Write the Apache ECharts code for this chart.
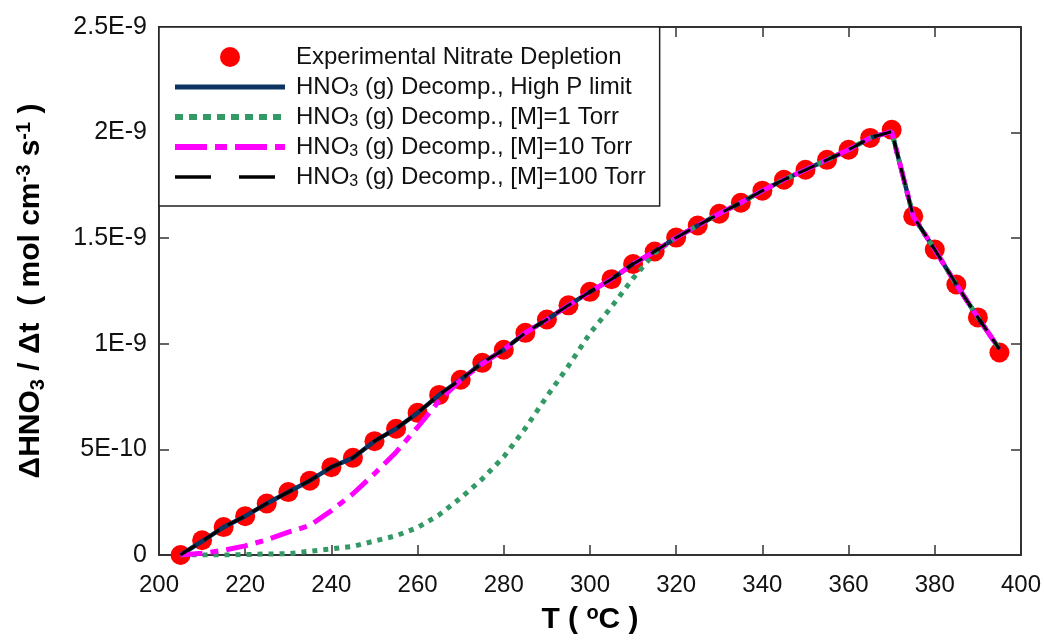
<!DOCTYPE html>
<html>
<head>
<meta charset="utf-8">
<script src="https://cdn.jsdelivr.net/npm/echarts@6/dist/echarts.min.js"></script>
<style>
html,body{margin:0;padding:0;background:#fff;}
#chart{width:1044px;height:640px;}
</style>
</head>
<body>
<div id="chart"></div>
<script>
// Temperature (°C)
var temps = [205,210,215,220,225,230,235,240,245,250,255,260,265,270,275,280,285,290,295,300,305,310,315,320,325,330,335,340,345,350,355,360,365,370,375,380,385,390,395];
// Values in units of 1E-9 mol cm^-3 s^-1
var experimental = [0,0.07,0.132,0.184,0.244,0.298,0.352,0.416,0.46,0.539,0.598,0.673,0.758,0.83,0.91,0.972,1.052,1.115,1.182,1.246,1.306,1.378,1.437,1.503,1.56,1.616,1.668,1.725,1.777,1.824,1.871,1.919,1.975,2.013,1.604,1.446,1.281,1.125,0.959];
var highP = [0,0.065,0.132,0.184,0.244,0.298,0.352,0.416,0.46,0.539,0.598,0.673,0.758,0.83,0.91,0.972,1.052,1.115,1.182,1.246,1.306,1.378,1.437,1.503,1.56,1.616,1.668,1.725,1.777,1.824,1.871,1.919,1.975,2.005,1.604,1.446,1.281,1.125,0.975];
var oneTorr = [0,0,0,0.002,0.005,0.006,0.018,0.029,0.041,0.066,0.091,0.13,0.19,0.27,0.36,0.465,0.6,0.751,0.895,1.05,1.175,1.31,1.43,1.503,1.56,1.616,1.668,1.725,1.777,1.824,1.871,1.919,1.975,2.005,1.604,1.446,1.281,1.125,0.975];
var tenTorr = [0,0.008,0.022,0.043,0.072,0.108,0.14,0.21,0.29,0.385,0.487,0.605,0.73,0.828,0.905,0.972,1.052,1.115,1.182,1.246,1.306,1.378,1.437,1.503,1.56,1.616,1.668,1.725,1.777,1.824,1.871,1.919,1.975,2.005,1.604,1.446,1.281,1.125,0.975];
var hundredTorr = [0,0.065,0.132,0.184,0.244,0.298,0.352,0.416,0.46,0.539,0.598,0.673,0.758,0.83,0.91,0.972,1.052,1.115,1.182,1.246,1.306,1.378,1.437,1.503,1.56,1.616,1.668,1.725,1.777,1.824,1.871,1.919,1.975,2.005,1.604,1.446,1.281,1.125,0.975];
var yTickLabels = ['0','5E-10','1E-9','1.5E-9','2E-9','2.5E-9'];
var seriesNames = ['Experimental Nitrate Depletion','HNO3 (g) Decomp., High P limit','HNO3 (g) Decomp., [M]=1 Torr','HNO3 (g) Decomp., [M]=10 Torr','HNO3 (g) Decomp., [M]=100 Torr'];

function pairs(arr){ return temps.map(function(t,i){ return [t, arr[i]]; }); }

var FONT = '"Liberation Sans", Arial, sans-serif';
var axisColor = '#333';
var hidden = {color:'rgba(0,0,0,0)', borderWidth:0, opacity:0};
var chart = echarts.init(document.getElementById('chart'), null, {renderer:'canvas'});
var richSmall = {
  sub:{fontSize:16, fontFamily:FONT, color:'#111', verticalAlign:'bottom', lineHeight:26},
  t:{fontSize:24, fontFamily:FONT, color:'#111', lineHeight:26}
};
var titleRich = {
  b:{fontSize:30, fontWeight:'bold', fontFamily:FONT, color:'#000', lineHeight:34},
  sub:{fontSize:20, fontWeight:'bold', fontFamily:FONT, color:'#000', verticalAlign:'bottom', lineHeight:34},
  sup:{fontSize:20, fontWeight:'bold', fontFamily:FONT, color:'#000', verticalAlign:'top', lineHeight:34}
};

var option = {
  animation:false,
  backgroundColor:'#fff',
  grid:{left:159, right:20, top:27, bottom:84},
  legend:{
    left:159, top:27, orient:'vertical',
    data:[
      {name:seriesNames[0], icon:'circle', itemStyle:{color:'#ff0000', opacity:1}},
      {name:seriesNames[1], itemStyle:hidden, lineStyle:{color:'#0b3463', width:5, type:'solid'}},
      {name:seriesNames[2], itemStyle:hidden, lineStyle:{color:'#339966', width:6, type:[8,6]}},
      {name:seriesNames[3], itemStyle:hidden, lineStyle:{color:'#ff00ff', width:6, type:[32,8,12,8]}},
      {name:seriesNames[4], itemStyle:hidden, lineStyle:{color:'#000', width:3.5, type:[36,28]}}
    ],
    itemWidth:110, itemHeight:20, itemGap:4,
    padding:[17,14,16,13],
    backgroundColor:'#fff', borderColor:'#222', borderWidth:1.5, borderRadius:0,
    textStyle:{fontSize:24, fontFamily:FONT, color:'#111', lineHeight:26, padding:[0,0,0,6], rich:richSmall},
    formatter:function(n){ return n.indexOf('HNO3')===0 ? '{t|HNO}{sub|3}{t|' + n.slice(4) + '}' : '{t|' + n + '}'; }
  },
  xAxis:[{
    type:'value', min:200, max:400, interval:20, position:'bottom',
    axisLine:{show:true, onZero:false, lineStyle:{color:axisColor, width:2}},
    axisTick:{inside:true, length:10, lineStyle:{color:axisColor, width:1.5}},
    axisLabel:{fontSize:24, fontFamily:FONT, color:'#111', margin:18},
    splitLine:{show:false},
    name:'{b|T ( }{sup|o}{b|C )}', nameLocation:'middle', nameGap:48,
    nameTextStyle:{rich:titleRich}
  },{
    type:'value', min:200, max:400, interval:20, position:'top',
    axisLine:{show:true, onZero:false, lineStyle:{color:axisColor, width:2}},
    axisTick:{inside:true, length:10, lineStyle:{color:axisColor, width:1.5}},
    axisLabel:{show:false}, splitLine:{show:false}
  }],
  yAxis:[{
    type:'value', min:0, max:2.5, interval:0.5, position:'left',
    axisLine:{show:true, onZero:false, lineStyle:{color:axisColor, width:2}},
    axisTick:{inside:true, length:10, lineStyle:{color:axisColor, width:1.5}},
    axisLabel:{fontSize:25, fontFamily:FONT, color:'#111', margin:12,
      formatter:function(v){ return yTickLabels[Math.round(v/0.5)]; }},
    splitLine:{show:false},
    name:'{b|ΔHNO}{sub|3}{b| / Δt  ( mol cm}{sup|-3}{b| s}{sup|-1}{b| )}',
    nameLocation:'middle', nameGap:111, nameRotate:90,
    nameTextStyle:{rich:titleRich}
  },{
    type:'value', min:0, max:2.5, interval:0.5, position:'right',
    axisLine:{show:true, onZero:false, lineStyle:{color:axisColor, width:2}},
    axisTick:{inside:true, length:10, lineStyle:{color:axisColor, width:1.5}},
    axisLabel:{show:false}, splitLine:{show:false}
  }],
  series:[
    {name:seriesNames[0], type:'scatter', data:pairs(experimental), symbol:'circle', symbolSize:20,
      itemStyle:{color:'#ff0000', opacity:1}, z:2},
    {name:seriesNames[1], type:'line', data:pairs(highP), symbol:'none', z:3,
      lineStyle:{color:'#0b3463', width:4.5, type:'solid'}, itemStyle:{color:'#0b3463'}},
    {name:seriesNames[2], type:'line', data:pairs(oneTorr), symbol:'none', z:4,
      lineStyle:{color:'#339966', width:5, type:[5,6]}, itemStyle:{color:'#339966'}},
    {name:seriesNames[3], type:'line', data:pairs(tenTorr), symbol:'none', z:5,
      lineStyle:{color:'#ff00ff', width:5, type:[22,8,8,8]}, itemStyle:{color:'#ff00ff'}},
    {name:seriesNames[4], type:'line', data:pairs(hundredTorr), symbol:'none', z:6,
      lineStyle:{color:'#000', width:3, type:[18,10]}, itemStyle:{color:'#000'}}
  ]
};
chart.setOption(option);
</script>
</body>
</html>
